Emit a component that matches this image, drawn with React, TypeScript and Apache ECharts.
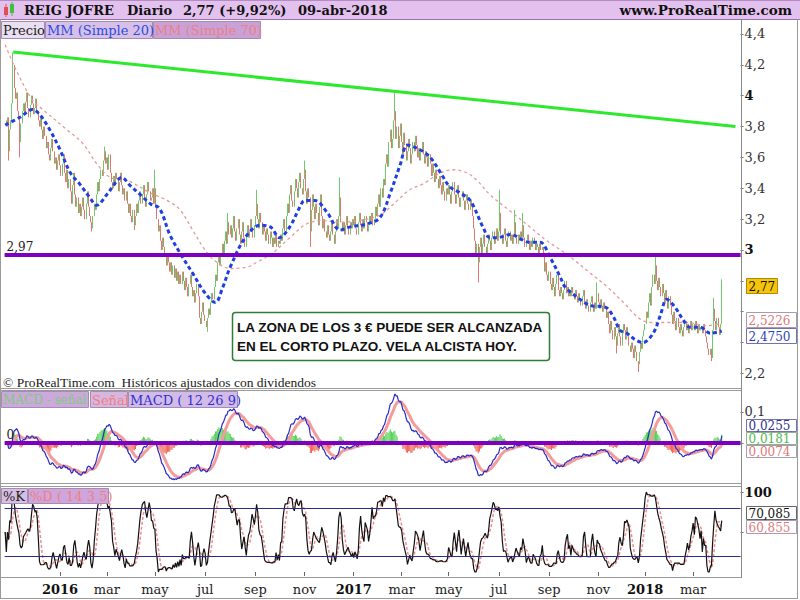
import React, { useEffect, useRef } from 'react';
import * as echarts from 'echarts';

// ---------------- DATA ----------------
const HEADER = { symbol: 'REIG JOFRE', period: 'Diario', quote: '2,77 (+9,92%)', date: '09-abr-2018', site: 'www.ProRealTime.com' };
const NOTE_LINES = ['LA ZONA DE LOS 3 € PUEDE SER ALCANZADA', 'EN EL CORTO PLAZO. VELA ALCISTA HOY.'];
const COPYRIGHT = '© ProRealTime.com  Históricos ajustados con dividendos';

const FIRST_DAY = '2015-10-26';
const LAST_DAY = '2018-04-09';
const HOLIDAYS = ['2015-12-25', '2016-01-01', '2016-03-25', '2016-03-28', '2016-12-26', '2017-04-14', '2017-04-17',
  '2017-05-01', '2017-12-25', '2017-12-26', '2018-01-01', '2018-03-30', '2018-04-02'];
const FUTURE_SLOTS = 16;
const MONTHS = ['ene', 'feb', 'mar', 'abr', 'may', 'jun', 'jul', 'ago', 'sep', 'oct', 'nov', 'dic'];

// daily closes
const close2015 = [
  3.84, 3.80, 3.86, 3.64, 3.78,
  3.84, 3.95, 4.20, 4.05, 3.98, 4.02, 3.90, 3.85, 3.70, 3.82, 3.90, 3.95, 3.88, 3.96, 4.02, 3.92, 3.86, 3.94, 4.00, 3.95, 3.88,
  3.92, 3.98, 3.90, 3.84, 3.80, 3.86, 3.78, 3.72, 3.80, 3.74, 3.66, 3.70, 3.62, 3.58, 3.66, 3.72, 3.64, 3.56, 3.60, 3.52, 3.58, 3.62,
];
const close2016 = [
  3.55, 3.48, 3.56, 3.62, 3.50, 3.44, 3.52, 3.40, 3.46, 3.38, 3.30, 3.42, 3.50, 3.36, 3.28, 3.34, 3.24, 3.30, 3.22, 3.28,
  3.34, 3.26, 3.20, 3.30, 3.38, 3.28, 3.22, 3.18, 3.14, 3.22, 3.30, 3.26, 3.36, 3.44, 3.38, 3.46, 3.52, 3.48, 3.58, 3.64, 3.56,
  3.60, 3.52, 3.62, 3.50, 3.44, 3.40, 3.48, 3.42, 3.50, 3.46, 3.38, 3.44, 3.50, 3.42, 3.36, 3.40, 3.32, 3.38, 3.30, 3.24, 3.30,
  3.22, 3.18, 3.26, 3.16, 3.22, 3.30, 3.24, 3.32, 3.38, 3.30, 3.36, 3.42, 3.34, 3.28, 3.36, 3.44, 3.38, 3.32, 3.34, 3.40, 3.30,
  3.40, 3.28, 3.20, 3.12, 3.16, 3.06, 3.00, 3.08, 3.02, 2.96, 2.90, 2.98, 2.92, 2.86, 2.92, 2.84, 2.90, 2.82, 2.88, 2.80, 2.86, 2.78,
  2.84, 2.78, 2.86, 2.80, 2.74, 2.82, 2.76, 2.70, 2.78, 2.84, 2.76, 2.70, 2.74, 2.66, 2.72, 2.78, 2.70, 2.56, 2.52, 2.60, 2.66, 2.58,
  2.54, 2.50, 2.56, 2.62, 2.58, 2.66, 2.72, 2.68, 2.76, 2.84, 2.80, 2.92, 2.98, 2.90, 2.96, 3.04, 2.98, 3.06, 3.12, 3.04, 3.18,
  3.10, 3.16, 3.08, 3.14, 3.22, 3.12, 3.06, 3.14, 3.20, 3.10, 3.04, 3.12, 3.18, 3.08, 3.02, 3.10, 3.16, 3.08, 3.12, 3.20, 3.14, 3.08, 3.16,
  3.22, 3.30, 3.20, 3.14, 3.24, 3.18, 3.10, 3.16, 3.12, 3.06, 3.14, 3.10, 3.04, 3.12, 3.08, 3.02, 3.08, 3.04, 3.10, 3.02, 3.06, 3.04,
  3.10, 3.06, 3.14, 3.20, 3.12, 3.22, 3.30, 3.24, 3.36, 3.42, 3.32, 3.28, 3.38, 3.46, 3.40, 3.34, 3.44, 3.50, 3.40, 3.36, 3.46,
  3.52, 3.38, 3.30, 3.40, 3.34, 3.12, 3.26, 3.36, 3.28, 3.20, 3.30, 3.24, 3.16, 3.28, 3.36, 3.22, 3.14, 3.20, 3.12, 3.08, 3.16, 3.10,
  3.06, 3.12, 3.18, 3.10, 3.04, 3.12, 3.20, 3.14, 3.22, 3.34, 3.18, 3.12, 3.18, 3.10, 3.16, 3.22, 3.14, 3.10, 3.18, 3.14, 3.20,
];
const close2017 = [
  3.16, 3.22, 3.14, 3.10, 3.18, 3.24, 3.16, 3.12, 3.20, 3.14, 3.22, 3.18, 3.12, 3.16, 3.22, 3.18, 3.24, 3.16, 3.20, 3.28, 3.22, 3.30,
  3.36, 3.28, 3.40, 3.34, 3.46, 3.42, 3.56, 3.62, 3.54, 3.70, 3.78, 3.66, 3.72, 3.84, 3.90, 3.72, 3.80, 3.66, 3.74, 3.82,
  3.70, 3.62, 3.76, 3.68, 3.58, 3.64, 3.72, 3.66, 3.56, 3.62, 3.70, 3.64, 3.74, 3.68, 3.60, 3.66, 3.58, 3.64, 3.70, 3.62, 3.56, 3.64, 3.60,
  3.54, 3.62, 3.56, 3.48, 3.56, 3.50, 3.44, 3.52, 3.46, 3.40, 3.48, 3.42, 3.36, 3.44, 3.38, 3.32, 3.40, 3.36,
  3.42, 3.36, 3.30, 3.38, 3.44, 3.36, 3.30, 3.36, 3.42, 3.34, 3.28, 3.34, 3.38, 3.32, 3.26, 3.32, 3.36, 3.30, 3.26, 3.32, 3.28, 3.22,
  3.14, 3.06, 2.98, 3.04, 2.92, 3.02, 3.08, 2.98, 3.04, 3.10, 3.02, 2.96, 3.04, 3.10, 3.06, 3.00, 3.08, 3.12, 3.04, 3.08, 3.14, 3.06,
  3.12, 3.24, 3.10, 3.04, 3.10, 3.14, 3.06, 3.02, 3.08, 3.12, 3.06, 3.10, 3.04, 3.10, 3.18, 3.08, 3.04, 3.10, 3.06, 3.12, 3.08,
  3.16, 3.08, 3.02, 3.06, 3.10, 3.04, 3.00, 3.06, 3.02, 3.08, 3.04, 3.00, 3.04, 3.02, 2.98, 3.04, 3.00, 3.02, 2.96, 2.86, 2.92, 2.84, 2.80,
  2.86, 2.78, 2.74, 2.82, 2.76, 2.70, 2.78, 2.84, 2.74, 2.70, 2.76, 2.72, 2.68, 2.74, 2.80, 2.72, 2.76, 2.70, 2.74, 2.70, 2.76,
  2.72, 2.68, 2.74, 2.70, 2.66, 2.72, 2.68, 2.64, 2.70, 2.74, 2.66, 2.62, 2.68, 2.64, 2.60, 2.66, 2.70, 2.64, 2.60, 2.66, 2.62, 2.72,
  2.66, 2.62, 2.68, 2.64, 2.60, 2.66, 2.62, 2.56, 2.60, 2.52, 2.46, 2.54, 2.48, 2.42, 2.50, 2.44, 2.38, 2.46, 2.52, 2.44, 2.38, 2.46,
  2.52, 2.48, 2.42, 2.50, 2.44, 2.38, 2.34, 2.40, 2.36, 2.30, 2.38, 2.34, 2.28, 2.26, 2.34, 2.40, 2.36, 2.44, 2.48,
];
const close2018 = [
  2.52, 2.60, 2.56, 2.66, 2.72, 2.64, 2.76, 2.84, 2.78, 2.90, 2.80, 2.74, 2.82, 2.76, 2.70, 2.78, 2.72, 2.66, 2.74, 2.68, 2.62, 2.70,
  2.64, 2.58, 2.52, 2.60, 2.54, 2.48, 2.56, 2.50, 2.46, 2.52, 2.48, 2.44, 2.50, 2.54, 2.48, 2.52, 2.46, 2.50, 2.54, 2.48,
  2.52, 2.48, 2.54, 2.50, 2.46, 2.52, 2.48, 2.50, 2.46, 2.52, 2.48, 2.44, 2.40, 2.36, 2.32, 2.36, 2.30, 2.48, 2.62, 2.54, 2.48,
  2.56, 2.50, 2.45, 2.52, 2.77,
];
// long wicks [trading-day index, price]
const wickHighs = [[7, 4.28], [87, 3.67], [131, 3.52], [195, 3.24], [220, 3.39], [262, 3.58], [293, 3.47], [341, 4.02],
  [433, 3.39], [446, 3.26], [453, 3.24], [518, 2.79], [569, 2.98], [620, 2.69], [627, 2.81]];
const wickLows = [[3, 3.58], [13, 3.60], [76, 3.12], [113, 3.13], [177, 2.47], [267, 3.02], [414, 2.79], [535, 2.33],
  [554, 2.21], [618, 2.28]];

// moving averages [trading-day index, value]
const ma20Points = [[0, 3.81], [13, 3.86], [24, 3.91], [30, 3.88], [39, 3.78], [48, 3.65], [57, 3.50], [65, 3.43], [74, 3.34],
  [80, 3.29], [89, 3.36], [98, 3.45], [102, 3.47], [109, 3.42], [118, 3.36], [127, 3.30], [135, 3.27], [144, 3.10],
  [153, 2.98], [164, 2.85], [175, 2.72], [184, 2.66], [190, 2.75], [197, 2.89], [210, 3.08], [223, 3.16], [232, 3.15],
  [240, 3.08], [249, 3.15], [258, 3.28], [262, 3.32], [271, 3.32], [282, 3.24], [293, 3.13], [302, 3.15], [317, 3.17],
  [328, 3.21], [337, 3.37], [346, 3.56], [352, 3.68], [363, 3.65], [372, 3.60], [381, 3.50], [389, 3.41], [398, 3.37],
  [407, 3.32], [418, 3.15], [424, 3.08], [430, 3.08], [442, 3.10], [459, 3.05], [468, 3.05], [477, 2.95], [486, 2.82],
  [490, 2.76], [503, 2.68], [512, 2.64], [525, 2.63], [532, 2.57], [538, 2.48], [544, 2.46], [551, 2.42], [558, 2.40],
  [567, 2.46], [573, 2.57], [579, 2.68], [586, 2.63], [593, 2.55], [599, 2.50], [608, 2.50], [617, 2.46], [627, 2.475]];
const ma70Points = [[0, 4.33], [10, 4.16], [24, 3.97], [33, 3.91], [54, 3.78], [68, 3.69], [80, 3.56], [92, 3.47], [107, 3.45],
  [127, 3.37], [142, 3.32], [153, 3.26], [164, 3.13], [173, 3.02], [182, 2.94], [197, 2.88], [212, 2.89], [220, 2.92],
  [234, 2.98], [249, 3.08], [264, 3.17], [278, 3.19], [293, 3.18], [308, 3.19], [322, 3.21], [331, 3.24], [343, 3.32],
  [354, 3.39], [366, 3.43], [381, 3.50], [392, 3.52], [404, 3.50], [413, 3.45], [424, 3.36], [444, 3.24], [459, 3.15],
  [474, 3.06], [486, 3.00], [497, 2.94], [512, 2.85], [527, 2.76], [541, 2.66], [556, 2.55], [567, 2.53], [579, 2.53],
  [597, 2.53], [614, 2.51], [627, 2.5226]];

const trendLine = [[7, 4.283], [639, 3.80]];
const supportLevel = 2.97;
const lastPrice = 2.77;
const lastMa20 = 2.475;
const lastMa70 = 2.5226;
const lastMacd = 0.0255;
const lastHist = 0.0181;
const lastSignal = 0.0074;
const lastK = 70.085;
const lastD = 60.855;
const stochLevels = [80, 20];
const priceTicks = [2.2, 2.4, 2.6, 2.8, 3, 3.2, 3.4, 3.6, 3.8, 4, 4.2, 4.4];
const priceTickLabels = [2.2, 3, 3.2, 3.4, 3.6, 3.8, 4, 4.2, 4.4];
const macdTicks = [0.1];
const macdTickMarks = [0.1, 0];
const stochTicks = [100];
const stochTickMarks = [100, 50];

// ---------------- DERIVED ----------------
function tradingDays(): string[] {
  const hs = new Set(HOLIDAYS);
  const out: string[] = [];
  const p0 = FIRST_DAY.split('-').map(Number);
  const p1 = LAST_DAY.split('-').map(Number);
  let t = Date.UTC(p0[0], p0[1] - 1, p0[2]);
  const end = Date.UTC(p1[0], p1[1] - 1, p1[2]);
  while (t <= end) {
    const d = new Date(t);
    const wd = d.getUTCDay();
    const s = d.toISOString().slice(0, 10);
    if (wd !== 0 && wd !== 6 && !hs.has(s)) out.push(s);
    t += 86400000;
  }
  let k = 0;
  while (k < FUTURE_SLOTS) {
    const d = new Date(t);
    const wd = d.getUTCDay();
    if (wd !== 0 && wd !== 6) { out.push(d.toISOString().slice(0, 10)); k++; }
    t += 86400000;
  }
  return out;
}

const categories = tradingDays();
const closes = [...close2015, ...close2016, ...close2017, ...close2018];
const N = closes.length;
const opens = closes.map((c, i) => (i === 0 ? c : closes[i - 1]));
const highs = closes.map((c, i) => Math.max(c, opens[i]));
const lows = closes.map((c, i) => Math.min(c, opens[i]));
wickHighs.forEach(([i, v]) => { if (i < N) highs[i] = Math.max(highs[i], v); });
wickLows.forEach(([i, v]) => { if (i < N) lows[i] = Math.min(lows[i], v); });
const candles = closes.map((c, i) => [opens[i], c, lows[i], highs[i]]);

const ema = (src: number[], n: number) => {
  const k = 2 / (n + 1);
  const out: number[] = [];
  src.forEach((v, i) => out.push(i === 0 ? v : v * k + out[i - 1] * (1 - k)));
  return out;
};
const sma = (src: number[], n: number) => src.map((_, i) => {
  const s = Math.max(0, i - n + 1);
  let sum = 0;
  for (let j = s; j <= i; j++) sum += src[j];
  return sum / (i - s + 1);
});
const e12 = ema(closes, 12);
const e26 = ema(closes, 26);
const macd = closes.map((_, i) => e12[i] - e26[i]);
const signal = ema(macd, 9);
const hist = macd.map((m, i) => m - signal[i]);
const rawK = closes.map((c, i) => {
  const s = Math.max(0, i - 13);
  let hh = -Infinity, ll = Infinity;
  for (let j = s; j <= i; j++) { hh = Math.max(hh, highs[j]); ll = Math.min(ll, lows[j]); }
  return hh > ll ? ((c - ll) / (hh - ll)) * 100 : 50;
});
const stochK = sma(rawK, 3);
const stochD = sma(stochK, 5);

const labelIdx = new Set<number>();
for (let i = 1; i < N; i++) {
  const d = categories[i], p = categories[i - 1];
  if (d.slice(5, 7) !== p.slice(5, 7)) {
    const m = +d.slice(5, 7) - 1;
    if (m % 2 === 0 && +d.slice(0, 4) >= 2016) labelIdx.add(i);
  }
}

// ---------------- STYLE ----------------
const SERIF = 'DejaVu Serif';
const UP = '#4cbb47';
const DOWN = '#d9544f';
const PURPLE = '#7d00c2';
const GRID_L = 4.6;
const GRID_R = 59.4;
const PRICE_MIN = 2.1056, PRICE_MAX = 4.4841;
const MACD_MIN = -0.129, MACD_MAX = 0.1677;
const STO_MIN = -6.25, STO_MAX = 106.25;

const tickFmt = (v: number) => {
  const r = Math.round(v * 10) / 10;
  return Number.isInteger(r) ? `{b|${r}}` : String(r).replace('.', ',');
};

function buildOption(): any {
  const grid = [
    { left: GRID_L, right: GRID_R, top: 21, height: 367 },
    { left: GRID_L, right: GRID_R, top: 391, height: 92 },
    { left: GRID_L, right: GRID_R, top: 487, height: 90 },
  ].map((g) => ({ ...g, containLabel: false, outerBoundsMode: 'none' }));
  const xAxis = [0, 1, 2].map((gi) => ({
    type: 'category', gridIndex: gi, data: categories, boundaryGap: true,
    axisLine: { show: false },
    axisTick: gi === 2 ? { show: true, alignWithLabel: true, length: 4, interval: (i: number) => labelIdx.has(i), lineStyle: { color: '#666' } } : { show: false },
    axisLabel: gi === 2 ? {
      show: true, interval: (i: number) => labelIdx.has(i), margin: 6, color: '#222', fontFamily: SERIF, fontSize: 13,
      formatter: (v: string) => { const m = +v.slice(5, 7) - 1; return m === 0 ? `{y|${v.slice(0, 4)}}` : MONTHS[m]; },
      rich: { y: { fontFamily: SERIF, fontSize: 13, fontWeight: 'bold', color: '#111' } },
    } : { show: false },
    splitLine: { show: false },
  }));
  const yBase = (gi: number, min: number, max: number, labels: number[], ticks: number[]) => ({
    type: 'value', gridIndex: gi, position: 'right', min, max, scale: true,
    splitLine: { show: false }, axisLine: { show: false },
    axisTick: { show: true, length: 3, customValues: ticks, lineStyle: { color: '#777' } },
    axisLabel: {
      show: true, customValues: labels, margin: 4, color: '#333', fontFamily: SERIF, fontSize: 13, formatter: tickFmt,
      rich: { b: { fontFamily: SERIF, fontSize: 13, fontWeight: 'bold', color: '#111' } },
    },
  });
  const yAxis = [
    yBase(0, PRICE_MIN, PRICE_MAX, priceTickLabels, priceTicks),
    yBase(1, MACD_MIN, MACD_MAX, macdTicks, macdTickMarks),
    yBase(2, STO_MIN, STO_MAX, stochTicks, stochTickMarks),
  ];
  const hLine = (value: number, color: string, width: number, label?: string) => ({
    silent: true, symbol: ['none', 'none'], animation: false,
    lineStyle: { color, width, type: 'solid' },
    label: label ? { show: true, position: 'insideStartTop', formatter: label, color: '#222', fontFamily: SERIF, fontSize: 12, distance: 2 } : { show: false },
    emphasis: { disabled: true },
    data: [{ yAxis: value }],
  });
  const series: any[] = [
    {
      type: 'candlestick', xAxisIndex: 0, yAxisIndex: 0, data: candles, barWidth: 1.2, large: false,
      itemStyle: { color: UP, color0: DOWN, borderColor: UP, borderColor0: DOWN, borderWidth: 0.8 },
      markLine: hLine(supportLevel, PURPLE, 4, supportLevel.toFixed(2).replace('.', ',')),
      z: 2,
    },
    {
      type: 'line', xAxisIndex: 0, yAxisIndex: 0, data: ma70Points, showSymbol: false, smooth: 0.35,
      lineStyle: { color: '#e59a9a', width: 1.3, type: [3, 3] }, z: 3,
    },
    {
      type: 'line', xAxisIndex: 0, yAxisIndex: 0, data: ma20Points, showSymbol: false, smooth: 0.35,
      lineStyle: { color: '#1f3fe0', width: 3, type: [4, 3] }, z: 4,
    },
    {
      type: 'line', xAxisIndex: 0, yAxisIndex: 0, data: trendLine, showSymbol: false,
      lineStyle: { color: '#2ee82e', width: 3 }, z: 5,
    },
    {
      type: 'bar', xAxisIndex: 1, yAxisIndex: 1, data: hist, barWidth: 1,
      itemStyle: { color: (p: any) => (p.value >= 0 ? '#4fd24f' : '#f0604f') }, z: 2,
    },
    {
      type: 'line', xAxisIndex: 1, yAxisIndex: 1, data: signal, showSymbol: false,
      lineStyle: { color: '#f29c9c', width: 3 }, z: 3,
    },
    {
      type: 'line', xAxisIndex: 1, yAxisIndex: 1, data: macd, showSymbol: false,
      lineStyle: { color: '#2a2ac8', width: 1.2 }, z: 4,
      markLine: hLine(0, PURPLE, 4, '0'),
    },
    {
      type: 'line', xAxisIndex: 2, yAxisIndex: 2, data: stochD, showSymbol: false,
      lineStyle: { color: '#f08c8c', width: 1.5, type: [3, 2] }, z: 3,
    },
    {
      type: 'line', xAxisIndex: 2, yAxisIndex: 2, data: stochK, showSymbol: false,
      lineStyle: { color: '#111', width: 1.2 }, z: 4,
      markLine: { ...hLine(stochLevels[0], '#2b2b8c', 1), data: stochLevels.map((v) => ({ yAxis: v })) },
    },
  ];
  return { animation: false, backgroundColor: '#fff', tooltip: { show: false }, grid, xAxis, yAxis, series };
}

function spread(ys: number[], gap: number): number[] {
  const order = ys.map((y, i) => ({ y, i })).sort((a, b) => a.y - b.y);
  let clusters = order.map((o) => ({ items: [o], center: o.y }));
  let merged = true;
  while (merged) {
    merged = false;
    for (let k = 0; k < clusters.length - 1; k++) {
      const a = clusters[k], b = clusters[k + 1];
      const aBottom = a.center + ((a.items.length - 1) * gap) / 2;
      const bTop = b.center - ((b.items.length - 1) * gap) / 2;
      if (bTop - aBottom < gap) {
        const items = a.items.concat(b.items);
        const center = items.reduce((s, o) => s + o.y, 0) / items.length;
        clusters.splice(k, 2, { items, center });
        merged = true;
        break;
      }
    }
  }
  const out = new Array(ys.length);
  clusters.forEach((c) => c.items.forEach((o, j) => { out[o.i] = c.center + (j - (c.items.length - 1) / 2) * gap; }));
  return out;
}

function buildGraphics(chart: any): any[] {
  const els: any[] = [];
  const line = (x1: number, y1: number, x2: number, y2: number, stroke = '#9a9a9a', w = 1) =>
    els.push({ type: 'line', silent: true, z: 20, shape: { x1, y1, x2, y2 }, style: { stroke, lineWidth: w } });
  const text = (x: number, y: number, t: string, o: any = {}) =>
    els.push({
      type: 'text', silent: true, z: 30, x, y,
      style: {
        text: t, fill: o.fill || '#111', fontFamily: o.family || SERIF, fontSize: o.size || 13, fontWeight: o.weight || 'normal',
        align: o.align || 'left', verticalAlign: 'middle', textAlign: o.align || 'left', textVerticalAlign: 'middle',
      },
    });
  const tab = (x: number, y: number, w: number, h: number, t: string, fill: string, bg: string, size = 13) => {
    els.push({ type: 'rect', silent: true, z: 25, shape: { x: x + 0.5, y: y + 0.5, width: w, height: h }, style: { fill: bg, stroke: '#a48cb4', lineWidth: 1 } });
    text(x + 2, y + h / 2 + 1, t, { fill, size });
  };

  // header bar
  els.push({ type: 'rect', silent: true, z: 19, shape: { x: 0, y: 0, width: 800, height: 19 }, style: { fill: '#e3c1ee' } });
  line(0, 19.5, 800, 19.5, '#9a72ad');
  line(0, 0.5, 800, 0.5, '#b48cc4');
  els.push({ type: 'rect', silent: true, z: 30, shape: { x: 4, y: 7, width: 4, height: 8 }, style: { fill: '#e05050' } });
  line(6, 4, 6, 17, '#e05050');
  els.push({ type: 'rect', silent: true, z: 30, shape: { x: 10, y: 4, width: 4, height: 9 }, style: { fill: '#40c040' } });
  line(12, 2, 12, 16, '#40c040');
  text(24, 10, HEADER.symbol, { weight: 'bold', size: 13 });
  text(127, 10, HEADER.period, { weight: 'bold', size: 13 });
  text(183, 10, HEADER.quote, { weight: 'bold', size: 13 });
  text(298, 10, HEADER.date, { weight: 'bold', size: 13 });
  text(792, 10, HEADER.site, { weight: 'bold', size: 13.5, align: 'right' });

  // frame
  line(0.5, 19, 0.5, 598);
  line(797.5, 19, 797.5, 598);
  line(741.5, 19, 741.5, 578, '#888');
  line(0, 388.5, 741, 388.5);
  line(0, 390.5, 741, 390.5);
  line(0, 483.5, 741, 483.5);
  line(0, 486.5, 741, 486.5);
  line(0, 577.5, 741, 577.5);
  line(0, 598.5, 798, 598.5);

  // legend tabs
  tab(1, 21, 43, 17, 'Precio', '#222', '#e9dff0');
  tab(45, 21, 107, 17, 'MM (Simple 20)', '#2a4de6', '#d7bfe5');
  tab(153, 21, 107, 17, 'MM (Simple 70)', '#ee8080', '#c9a0d8');
  tab(1, 391, 87, 16, 'MACD - señal', '#7ccc7c', '#cda8dc', 12);
  tab(90, 391, 37, 16, 'Señal', '#ee8080', '#d7b6e0');
  tab(128, 391, 109, 16, 'MACD ( 12 26 9)', '#3030d0', '#d2bbe6');
  tab(1, 488, 26, 15, '%K', '#222', '#d6bfe2');
  tab(28, 488, 80, 15, '%D ( 14 3 5)', '#ee8080', '#cfa6dc');

  // copyright + note
  text(3, 382, COPYRIGHT, { family: 'Liberation Serif', size: 13.5, fill: '#222' });
  els.push({ type: 'rect', silent: true, z: 25, shape: { x: 232.5, y: 312.5, width: 317, height: 48, r: 3 }, style: { fill: '#fff', stroke: '#2f7d32', lineWidth: 1.5 } });
  text(237, 327, NOTE_LINES[0], { family: 'Liberation Sans', size: 13.5, weight: 'bold' });
  text(237, 346, NOTE_LINES[1], { family: 'Liberation Sans', size: 13.5, weight: 'bold' });

  // right-hand value boxes
  const box = (y: number, t: string, fill: string, stroke: string, bg = '#fff', h = 15, w = 50) => {
    els.push({ type: 'rect', silent: true, z: 40, shape: { x: 746.5, y: Math.round(y - h / 2) + 0.5, width: w, height: h }, style: { fill: bg, stroke, lineWidth: 1 } });
    text(748.5, Math.round(y - h / 2) + h / 2 + 1, t, { fill, size: 12 }); els[els.length - 1].z = 41;
  };
  const groups = [
    { axis: 0, gap: 16, items: [
      { v: lastPrice, t: lastPrice.toFixed(2).replace('.', ','), fill: '#111', stroke: '#b08a00', bg: '#f6c409', w: 31 },
      { v: lastMa70, t: lastMa70.toFixed(4).replace('.', ','), fill: '#e07878', stroke: '#a89ab0' },
      { v: lastMa20, t: lastMa20.toFixed(4).replace('.', ','), fill: '#2a40c0', stroke: '#7272ae' },
    ] },
    { axis: 1, gap: 13, items: [
      { v: lastMacd, t: lastMacd.toFixed(4).replace('.', ','), fill: '#303090', stroke: '#7272ae' },
      { v: lastHist, t: lastHist.toFixed(4).replace('.', ','), fill: '#50b850', stroke: '#90b090' },
      { v: lastSignal, t: lastSignal.toFixed(4).replace('.', ','), fill: '#e07878', stroke: '#a89ab0' },
    ] },
    { axis: 2, gap: 14, items: [
      { v: lastK, t: lastK.toFixed(3).replace('.', ','), fill: '#111', stroke: '#666' },
      { v: lastD, t: lastD.toFixed(3).replace('.', ','), fill: '#e07878', stroke: '#a89ab0' },
    ] },
  ];
  groups.forEach((g) => {
    const ys = g.items.map((it) => chart.convertToPixel({ yAxisIndex: g.axis }, it.v) as number);
    const pos = spread(ys, g.gap);
    g.items.forEach((it: any, i) => box(pos[i], it.t, it.fill, it.stroke, it.bg || '#fff', g.gap - 1, it.w || 50));
  });
  return els;
}

export default function App() {
  const ref = useRef<HTMLDivElement>(null);
  useEffect(() => {
    if (!ref.current) return;
    const chart = echarts.init(ref.current, null, { renderer: 'svg' });
    chart.setOption(buildOption());
    chart.setOption({ graphic: buildGraphics(chart) });
    return () => chart.dispose();
  }, []);
  return <div ref={ref} style={{ position: 'absolute', left: 0, top: 0, width: 800, height: 600, background: '#fff' }} />;
}
